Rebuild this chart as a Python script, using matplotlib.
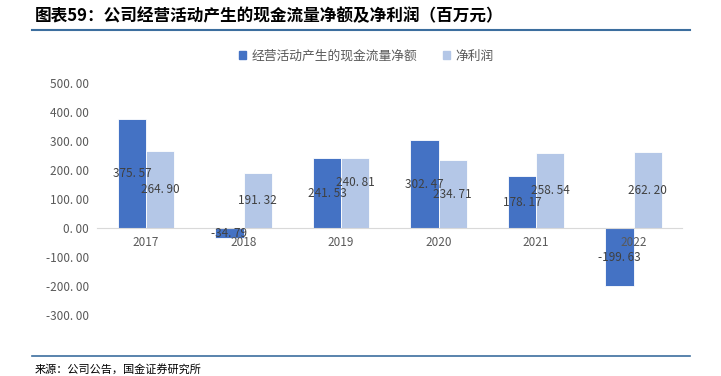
import matplotlib
matplotlib.use("Agg")
import matplotlib.pyplot as plt
import numpy as np
from matplotlib.patches import Rectangle
from matplotlib.lines import Line2D

plt.rcParams['font.family'] = ['Noto Sans CJK SC', 'DejaVu Sans']

years = ["2017", "2018", "2019", "2020", "2021", "2022"]
cash_flow = [375.57, -34.79, 241.53, 302.47, 178.17, -199.63]
net_profit = [264.90, 191.32, 240.81, 234.71, 258.54, 262.20]
yticks = [500, 400, 300, 200, 100, 0, -100, -200, -300]
series_names = ["经营活动产生的现金流量净额", "净利润"]
title = "图表59：公司经营活动产生的现金流量净额及净利润（百万元）"
source = "来源：公司公告，国金证券研究所"

c1 = "#4472C4"
c2 = "#B4C7E7"
txt = "#404040"

fig = plt.figure(figsize=(7.21, 3.76), dpi=100)
ax = fig.add_axes([0.135, 0.162, 0.8115, 0.617])

for s in ["top", "right", "left"]:
    ax.spines[s].set_visible(False)
ax.spines["bottom"].set_position(("data", 0))
ax.spines["bottom"].set_color("#D9D9D9")

x = np.arange(len(years))
w = 0.29
b1 = ax.bar(x - w/2, cash_flow, w, color=c1, edgecolor="white", linewidth=0.6)
b2 = ax.bar(x + w/2, net_profit, w, color=c2, edgecolor="white", linewidth=0.6)

def fmt(v):
    return f"{v:.2f}".replace(".", ". ")

for i, (bars, vals) in enumerate(((b1, cash_flow), (b2, net_profit))):
    for j, (r, v) in enumerate(zip(bars, vals)):
        dy = 0
        if i == 1 and j == 2:
            dy = 11  # label nudged up in the reference to avoid overlap
        ax.annotate(fmt(v), (r.get_x() + r.get_width()/2, v/2), xytext=(0, dy),
                    textcoords="offset pixels", ha="center", va="center",
                    fontsize=8.5, color=txt)

ax.set_xlim(-0.5, len(years) - 0.5)
ax.set_ylim(-300, 500)
ax.set_yticks(yticks)
ax.set_yticklabels([fmt(v) for v in yticks])
ax.set_xticks(x)
ax.set_xticklabels(years)
ax.tick_params(axis="both", length=0, labelsize=8.5, labelcolor="#595959")
ax.tick_params(axis="x", pad=6)
ax.tick_params(axis="y", pad=6)

# legend
handles = [Rectangle((0, 0), 1, 1, color=c1), Rectangle((0, 0), 1, 1, color=c2)]
fig.legend(handles, series_names, loc="center", bbox_to_anchor=(0.508, 0.851), ncol=2,
           frameon=False, fontsize=9.2, handlelength=0.6, handleheight=0.6,
           handletextpad=0.4, columnspacing=2.0, labelcolor="#595959")

# title and lines
fig.text(0.048, 0.957, title, fontsize=12, fontweight="bold", style="italic",
         ha="left", va="center", color="black")
fig.add_artist(Line2D([0.045, 0.957], [0.921, 0.921], color="#3C6E9E", linewidth=1.5))
fig.add_artist(Line2D([0.045, 0.957], [0.053, 0.053], color="#3C6E9E", linewidth=1.2))
fig.text(0.048, 0.018, source, fontsize=8, ha="left", va="center", color="black")

fig.savefig("out.png", dpi=100)
